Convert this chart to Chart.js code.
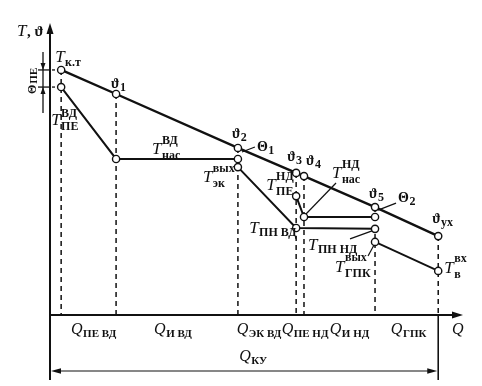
<!DOCTYPE html>
<html>
<head>
<meta charset="utf-8">
<script src="https://cdn.jsdelivr.net/npm/chart.js@4.4.0/dist/chart.umd.min.js"></script>
<style>
  html, body { margin: 0; padding: 0; background: #fff; }
  #wrap { width: 482px; height: 386px; }
</style>
</head>
<body>
<div id="wrap"><canvas id="tq" width="482" height="386"></canvas></div>
<script>
// Q along the boiler, % of Q_KU (section boundaries)
const qPoints = [2.7, 16, 45.5, 59.6, 61.5, 78.7, 94];
// gas temperature at each boundary (T_k.t, ϑ1 ... ϑух)
const gasTemps = [84.5, 76.2, 57.6, 49, 47.9, 37.2, 27.2];
const gasNames = ['', '1', '2', '3', '4', '5', 'ух'];

// high pressure circuit: superheater + evaporator
const hpSteamQ = [2.7, 16, 45.5];
const hpSteamT = [78.6, 53.8, 53.8];
// high pressure economizer + feed water line
const hpWaterQ = [45.5, 59.6, 78.7];
const hpWaterT = [51, 30, 29.7];
// low pressure circuit
const lpQ = [59.6, 61.5, 78.7];
const lpT = [41, 33.8, 33.8];
// condensate heater (ГПК)
const gpkQ = [78.7, 94];
const gpkT = [25.2, 15.2];

// section names under the Q axis
const sectionSubs = ['ПЕ ВД', 'И ВД', 'ЭК ВД', 'ПЕ НД', 'И НД', 'ГПК'];

const SERIF = '"Liberation Serif", "DejaVu Serif", serif';
function font(style, size) {
  return style + ' ' + size + 'px ' + SERIF;
}

function pts(xs, ys) {
  return xs.map((x, i) => ({x: x, y: ys[i]}));
}

function solid(data, width) {
  return {
    data: data,
    showLine: true,
    borderColor: '#111',
    borderWidth: width,
    pointRadius: 3.6,
    pointBorderWidth: 1.4,
    pointBackgroundColor: '#fff',
    pointBorderColor: '#111',
    order: 0,
    clip: false,
  };
}

// composite label: main letter with sub / superscripts
function label(ctx, x, y, main, sub, sup, o) {
  o = o || {};
  const mainFont = o.mainFont || font('italic', 17);
  const small = font('bold', o.subSize || 12);
  ctx.font = mainFont;
  const mw = ctx.measureText(main).width;
  ctx.font = small;
  const sw = sub ? ctx.measureText(sub).width : 0;
  const pw = sup ? ctx.measureText(sup).width : 0;
  const gap = o.gap !== undefined ? o.gap : 0.5;
  const total = mw + gap + Math.max(sw, pw);
  const x0 = o.center ? x - total / 2 : x;
  ctx.textAlign = 'left';
  ctx.textBaseline = 'alphabetic';
  ctx.font = mainFont;
  ctx.fillText(main, x0, y);
  ctx.font = small;
  if (sub) ctx.fillText(sub, x0 + mw + gap, y + (o.subDy !== undefined ? o.subDy : 5));
  if (sup) ctx.fillText(sup, x0 + mw + gap, y - (o.supDy !== undefined ? o.supDy : 8));
}

function seg(ctx, x1, y1, x2, y2) {
  ctx.beginPath();
  ctx.moveTo(x1, y1);
  ctx.lineTo(x2, y2);
  ctx.stroke();
}

function arrowHead(ctx, x, y, dx, dy, len, half) {
  // tip at (x,y), pointing along (dx,dy)
  const px = -dy, py = dx;
  ctx.beginPath();
  ctx.moveTo(x, y);
  ctx.lineTo(x - dx * len + px * half, y - dy * len + py * half);
  ctx.lineTo(x - dx * len - px * half, y - dy * len - py * half);
  ctx.closePath();
  ctx.fill();
}

const diagram = {
  id: 'diagram',
  beforeDatasetsDraw(chart) {
    const ctx = chart.ctx;
    const ca = chart.chartArea;
    const xs = chart.scales.x, ys = chart.scales.y;
    ctx.save();
    ctx.strokeStyle = '#111';
    ctx.fillStyle = '#111';
    ctx.lineWidth = 2;
    // T axis (extends below to close the Q_KU bracket)
    seg(ctx, ca.left, ca.bottom + 65, ca.left, ca.top + 6);
    arrowHead(ctx, ca.left, ca.top - 2, 0, -1, 11, 3.5);
    // Q axis
    seg(ctx, ca.left, ca.bottom, ca.right - 6, ca.bottom);
    arrowHead(ctx, ca.right, ca.bottom, 1, 0, 11, 3.5);

    // Q_KU bracket
    const xEnd = xs.getPixelForValue(qPoints[qPoints.length - 1]);
    ctx.lineWidth = 1.6;
    seg(ctx, xEnd, ca.bottom, xEnd, ca.bottom + 65);
    const yb = ca.bottom + 56;
    ctx.lineWidth = 1.2;
    seg(ctx, ca.left + 6, yb, xEnd - 6, yb);
    arrowHead(ctx, ca.left + 1, yb, -1, 0, 10, 2.8);
    arrowHead(ctx, xEnd - 1, yb, 1, 0, 10, 2.8);

    // Θ_ПЕ dimension at the left
    const xd = ca.left - 7;
    const yTop = ys.getPixelForValue(gasTemps[0]);
    const yPe = ys.getPixelForValue(hpSteamT[0]);
    const xPe = xs.getPixelForValue(qPoints[0]);
    ctx.lineWidth = 1.3;
    seg(ctx, xd, yTop - 18, xd, yPe + 26);
    arrowHead(ctx, xd, yTop, 0, 1, 7, 2.5);
    arrowHead(ctx, xd, yPe, 0, -1, 7, 2.5);
    seg(ctx, xd - 5, yTop, ca.left, yTop);
    seg(ctx, xd - 5, yPe, ca.left, yPe);
    ctx.setLineDash([3, 3]);
    seg(ctx, ca.left + 2, yTop, xPe - 3, yTop);
    seg(ctx, ca.left + 2, yPe, xPe - 3, yPe);
    ctx.setLineDash([]);
    ctx.restore();
  },
  afterDatasetsDraw(chart) {
    const ctx = chart.ctx;
    const ca = chart.chartArea;
    const xs = chart.scales.x, ys = chart.scales.y;
    const P = (q, t) => [xs.getPixelForValue(q), ys.getPixelForValue(t)];
    ctx.save();
    ctx.fillStyle = '#111';
    ctx.strokeStyle = '#111';
    ctx.lineWidth = 1.2;
    const greek = font('bold', 14);

    // axis titles
    label(ctx, 17, 36, 'T', null, null);
    ctx.font = font('bold', 15);
    ctx.fillText(', ϑ', 27, 36);
    label(ctx, ca.right - 11, ca.bottom + 19, 'Q', null, null, {mainFont: font('italic', 16)});

    // Θ_ПЕ (rotated)
    ctx.save();
    ctx.translate(36, 94);
    ctx.rotate(-Math.PI / 2);
    label(ctx, 0, 0, 'Θ', 'ПЕ', null, {mainFont: font('bold', 12), subDy: 1, subSize: 11, gap: 1});
    ctx.restore();

    // gas side temperatures
    let a = P(qPoints[0], gasTemps[0]);
    label(ctx, a[0] - 6, a[1] - 8, 'T', 'к.т', null, {subDy: 4});
    const gasOff = [null, [-5, -6], [-6, -10], [-9, -12], [2, -11], [-6, -9], [-6, -13]];
    for (let i = 1; i < qPoints.length; i++) {
      a = P(qPoints[i], gasTemps[i]);
      label(ctx, a[0] + gasOff[i][0], a[1] + gasOff[i][1], 'ϑ', gasNames[i], null,
        {mainFont: greek, subDy: 3, subSize: 12});
    }

    // Θ1 and Θ2 (pinch points)
    a = P(qPoints[2], gasTemps[2]);
    seg(ctx, a[0] + 4, a[1] + 4, a[0] + 17, a[1] - 1);
    label(ctx, a[0] + 19, a[1] + 3, 'Θ', '1', null, {mainFont: greek, subDy: 3});
    a = P(qPoints[5], gasTemps[5]);
    seg(ctx, a[0] + 3, a[1] + 3, a[0] + 21, a[1] - 4);
    label(ctx, a[0] + 23, a[1] - 5, 'Θ', '2', null, {mainFont: greek, subDy: 3});

    // HP circuit
    a = P(hpSteamQ[0], hpSteamT[0]);
    label(ctx, a[0] - 10, a[1] + 38, 'T', 'ПЕ', 'ВД');
    a = P(hpSteamQ[1], hpSteamT[1]);
    label(ctx, a[0] + 36, a[1] - 5, 'T', 'нас', 'ВД', {supDy: 10});
    a = P(hpWaterQ[0], hpWaterT[0]);
    label(ctx, a[0] - 35, a[1] + 15, 'T', 'эк', 'вых', {supDy: 10});
    a = P(hpWaterQ[1], hpWaterT[1]);
    label(ctx, a[0] - 47, a[1] + 5, 'T', 'ПН ВД', null, {subDy: 3});

    // LP circuit
    a = P(lpQ[0], lpT[0]);
    label(ctx, a[0] - 30, a[1] - 6, 'T', 'ПЕ', 'НД', {supDy: 10});
    a = P(lpQ[1], lpT[1]);
    seg(ctx, a[0] + 2, a[1] - 3, a[0] + 32, a[1] - 34);
    label(ctx, a[0] + 28, a[1] - 39, 'T', 'нас', 'НД', {supDy: 10});
    a = P(hpWaterQ[2], hpWaterT[2]);
    seg(ctx, a[0] - 3, a[1] + 2, a[0] - 25, a[1] + 10);
    label(ctx, a[0] - 67, a[1] + 21, 'T', 'ПН НД', null, {subDy: 3});

    // condensate heater
    a = P(gpkQ[0], gpkT[0]);
    seg(ctx, a[0] - 1, a[1] + 3, a[0] - 7, a[1] + 14);
    label(ctx, a[0] - 40, a[1] + 30, 'T', 'ГПК', 'вых', {supDy: 11});
    a = P(gpkQ[1], gpkT[1]);
    label(ctx, a[0] + 6, a[1] + 2, 'T', 'в', 'вх', {supDy: 11});

    // section heat loads under the axis
    const nudge = [5, -4, -8, 5, 10, 2];
    const bounds = [0].concat(qPoints);
    for (let i = 0; i < sectionSubs.length; i++) {
      const xm = (xs.getPixelForValue(bounds[i + 1]) + xs.getPixelForValue(bounds[i + 2])) / 2;
      label(ctx, xm + nudge[i], ca.bottom + 19, 'Q', sectionSubs[i], null,
        {center: true, mainFont: font('italic', 16), subDy: 3, subSize: 11});
    }
    const xEnd = xs.getPixelForValue(qPoints[qPoints.length - 1]);
    label(ctx, (ca.left + xEnd) / 2 + 9, ca.bottom + 46, 'Q', 'КУ', null,
      {center: true, mainFont: font('italic', 16), subDy: 3, subSize: 11});
    ctx.restore();
  }
};

const dashed = qPoints.map((q, i) => ({
  data: [{x: q, y: gasTemps[i]}, {x: q, y: 0}],
  showLine: true,
  borderColor: '#111',
  borderWidth: 1.5,
  borderDash: [5, 4],
  pointRadius: 0,
  order: 2,
  clip: false,
}));

new Chart(document.getElementById('tq'), {
  type: 'scatter',
  data: {
    datasets: [
      solid(pts(qPoints, gasTemps), 2.4),
      solid(pts(hpSteamQ, hpSteamT), 2),
      solid(pts(hpWaterQ, hpWaterT), 2),
      solid(pts(lpQ, lpT), 2),
      solid(pts(gpkQ, gpkT), 1.8),
    ].concat(dashed)
  },
  options: {
    responsive: false,
    animation: false,
    events: [],
    layout: {padding: {left: 50, right: 19, top: 25, bottom: 71}},
    scales: {
      x: {type: 'linear', min: 0, max: 100, display: false},
      y: {type: 'linear', min: 0, max: 100, display: false},
    },
    plugins: {
      legend: {display: false},
      tooltip: {enabled: false},
    },
  },
  plugins: [diagram],
});
</script>
</body>
</html>
